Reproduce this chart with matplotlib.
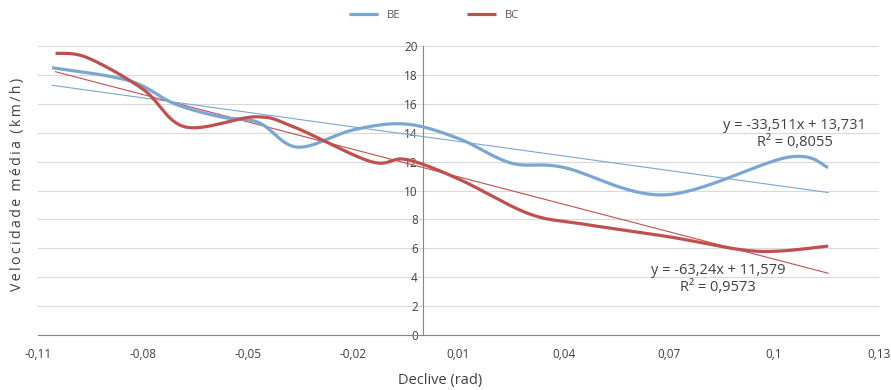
import matplotlib.pyplot as plt
import numpy as np

# declive (rad) x velocidade media (km/h)
x_be = [-0.106, -0.084, -0.071, -0.058, -0.047, -0.036, -0.02, -0.005, 0.01, 0.025, 0.04, 0.069, 0.104, 0.1155]
v_be = [18.5, 17.6, 16.0, 15.1, 14.7, 13.0, 14.2, 14.6, 13.6, 11.9, 11.6, 9.7, 12.3, 11.6]

x_bc = [-0.105, -0.096, -0.08, -0.068, -0.048, -0.037, -0.015, -0.005, 0.01, 0.03, 0.045, 0.07, 0.095, 0.1155]
v_bc = [19.5, 19.2, 17.0, 14.4, 15.1, 14.4, 12.0, 12.15, 10.8, 8.4, 7.7, 6.8, 5.8, 6.15]

xticks = [-0.11, -0.08, -0.05, -0.02, 0.01, 0.04, 0.07, 0.1, 0.13]
xtick_labels = ["-0,11", "-0,08", "-0,05", "-0,02", "0,01", "0,04", "0,07", "0,1", "0,13"]
yticks = [0, 2, 4, 6, 8, 10, 12, 14, 16, 18, 20]

eq_be = "y = -33,511x + 13,731\nR² = 0,8055"
eq_bc = "y = -63,24x + 11,579\nR² = 0,9573"

BLUE = "#7aa6d4"
RED = "#c0504d"


def suavizar(xs, ys, n=30):
    # curva bezier tipo "linha suavizada" do excel
    p = np.column_stack([xs, ys]).astype(float)
    pts = []
    for i in range(len(p) - 1):
        p0 = p[i - 1] if i > 0 else p[i]
        p1 = p[i]
        p2 = p[i + 1]
        p3 = p[i + 2] if i + 2 < len(p) else p[i + 1]
        c1 = p1 + (p2 - p0) / 6
        c2 = p2 - (p3 - p1) / 6
        t = np.linspace(0, 1, n)[:, None]
        seg = (1 - t) ** 3 * p1 + 3 * (1 - t) ** 2 * t * c1 + 3 * (1 - t) * t ** 2 * c2 + t ** 3 * p2
        pts.append(seg)
    pts = np.vstack(pts)
    return pts[:, 0], pts[:, 1]


def main():
    plt.rcParams['font.family'] = ['Open Sans', 'DejaVu Sans']
    fig = plt.figure(figsize=(8.91, 3.9), dpi=100)
    ax = fig.add_axes([0.0427, 0.141, 0.9438, 0.741])

    ax.set_xlim(-0.11, 0.13)
    ax.set_ylim(0, 20)

    for y in yticks[1:]:
        ax.axhline(y, color="#d9d9d9", lw=0.8, zorder=0)

    sx, sy = suavizar(x_be, v_be)
    ax.plot(sx, sy, color=BLUE, lw=2.3, label="BE", zorder=3, solid_capstyle="butt")
    sx, sy = suavizar(x_bc, v_bc)
    ax.plot(sx, sy, color=RED, lw=2.3, label="BC", zorder=3, solid_capstyle="butt")

    # linhas de tendencia
    xl = np.array([x_be[0], x_be[-1]])
    ax.plot(xl, -33.511 * xl + 13.731, color=BLUE, lw=0.8, zorder=2)
    xl = np.array([x_bc[0], x_bc[-1]])
    ax.plot(xl, -63.24 * xl + 11.579, color=RED, lw=0.8, zorder=2)

    ax.text(0.106, 13.9, eq_be, ha="center", va="center", fontsize=10.5,
            color="#404040", linespacing=1.2, zorder=4)
    ax.text(0.084, 3.9, eq_bc, ha="center", va="center", fontsize=10.5,
            color="#404040", linespacing=1.2, zorder=4)

    ax.spines["left"].set_position(("data", 0))
    ax.spines["left"].set_color("#868686")
    ax.spines["left"].set_linewidth(0.8)
    ax.spines["bottom"].set_color("#868686")
    ax.spines["bottom"].set_linewidth(0.8)
    ax.spines["top"].set_visible(False)
    ax.spines["right"].set_visible(False)

    ax.set_xticks(xticks)
    ax.set_xticklabels(xtick_labels)
    ax.set_yticks(yticks)
    ax.tick_params(axis="both", length=0, labelsize=8.5, labelcolor="#404040")
    ax.tick_params(axis="x", pad=9)
    ax.tick_params(axis="y", pad=4)

    fig.text(0.494, 0.025, "Declive (rad)", ha="center", va="center",
             fontsize=10.5, color="#404040")
    ylab = "  ".join("\u2009".join(w) for w in "Velocidade média (km/h)".split())
    fig.text(0.02, 0.526, ylab, rotation=90, ha="center", va="center",
             fontsize=10.2, color="#404040")

    fig.legend(loc="upper center", bbox_to_anchor=(0.487, 1.0), ncol=2, frameon=False,
               fontsize=8, handlelength=2.6, columnspacing=6, labelcolor="#595959")

    fig.savefig("out.png", dpi=100)


if __name__ == "__main__":
    main()
